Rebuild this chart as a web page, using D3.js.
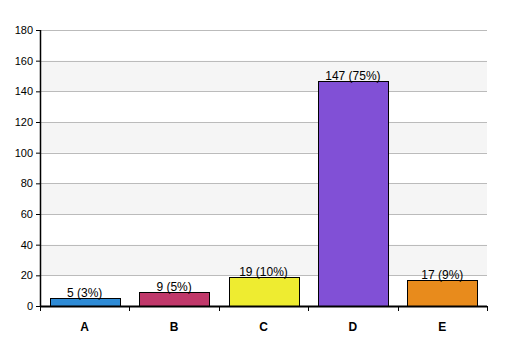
<!DOCTYPE html>
<html><head><meta charset="utf-8">
<script src="https://cdn.jsdelivr.net/npm/d3@7"></script>
<style>body{margin:0;background:#fff}svg{display:block}</style>
</head><body>
<script>
const categories = ["A","B","C","D","E"];
const values = [5,9,19,147,17];
const labels = ["5 (3%)","9 (5%)","19 (10%)","147 (75%)","17 (9%)"];
const colors = ["#2e8bd6","#c0386a","#eeec30","#8150d6","#e88b1c"];
const yTicks = [0,20,40,60,80,100,120,140,160,180];

(function(){
const W=507,H=356, pL=40, pR=487, pT=30, pB=306;
const svg=d3.select("body").append("svg").attr("width",W).attr("height",H);
const x=d3.scaleBand().domain(categories).range([pL,pR]).paddingInner(0.22).paddingOuter(0.11);
const y=d3.scaleLinear().domain([0,180]).range([pB,pT]);

// alternate bands
for(let i=0;i<yTicks.length-1;i++){
  if(i%2===1){
    svg.append("rect").attr("x",pL).attr("width",pR-pL)
      .attr("y",y(yTicks[i+1])).attr("height",y(yTicks[i])-y(yTicks[i+1])).attr("fill","#f5f5f5");
  }
}
// gridlines
svg.append("g").selectAll("line").data(yTicks.slice(1)).join("line")
  .attr("x1",pL).attr("x2",pR).attr("y1",d=>Math.round(y(d))+0.5).attr("y2",d=>Math.round(y(d))+0.5)
  .attr("stroke","#bbbbbb").attr("stroke-width",1);

// bars
svg.append("g").selectAll("rect").data(values).join("rect")
  .attr("x",(d,i)=>Math.round(x(categories[i]))+0.5).attr("width",Math.round(x.bandwidth()))
  .attr("y",d=>Math.round(y(d))+0.5).attr("height",d=>pB-Math.round(y(d)))
  .attr("fill",(d,i)=>colors[i]).attr("stroke","#000").attr("stroke-width",1);

// value labels
svg.append("g").selectAll("text").data(values).join("text")
  .attr("x",(d,i)=>x(categories[i])+x.bandwidth()/2).attr("y",d=>y(d)-1)
  .attr("text-anchor","middle").attr("font-family","Arial, 'Liberation Sans', sans-serif")
  .attr("font-size",12).attr("fill","#000").text((d,i)=>labels[i]);

// y axis
const ya=svg.append("g").attr("transform",`translate(${pL},0)`)
  .call(d3.axisLeft(y).tickValues(yTicks).tickSize(4).tickPadding(3).tickFormat(d3.format("d")));
ya.select(".domain").attr("stroke","#000").attr("stroke-width",1.5).attr("d",`M0.5,${pT}V${pB}`);
ya.selectAll(".tick line").attr("stroke","#000");
ya.selectAll("text").attr("font-family","Arial, 'Liberation Sans', sans-serif").attr("font-size",11).attr("fill","#000");

// x axis
const bounds=d3.range(categories.length+1).map(i=>pL+i*(pR-pL)/categories.length);
svg.append("line").attr("x1",pL).attr("x2",pR).attr("y1",pB+0.5).attr("y2",pB+0.5)
  .attr("stroke","#000").attr("stroke-width",2);
svg.append("g").selectAll("line").data(bounds).join("line")
  .attr("x1",d=>Math.round(d)+0.5).attr("x2",d=>Math.round(d)+0.5).attr("y1",pB).attr("y2",pB+5)
  .attr("stroke","#000").attr("stroke-width",1);
svg.append("g").selectAll("text").data(categories).join("text")
  .attr("x",d=>x(d)+x.bandwidth()/2).attr("y",331)
  .attr("text-anchor","middle").attr("font-family","Arial, 'Liberation Sans', sans-serif")
  .attr("font-size",12).attr("font-weight","bold").attr("fill","#000").text(d=>d);
})();
</script>
</body></html>
